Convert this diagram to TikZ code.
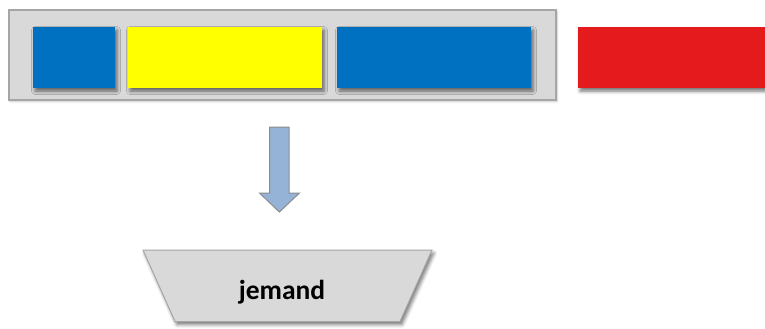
\documentclass[tikz,border=0pt]{standalone}
\usepackage{fontspec}
\setmainfont{Carlito}
\usetikzlibrary{shadows.blur}
\definecolor{boxgray}{HTML}{D9D9D9}
\definecolor{edgegray}{HTML}{A6A6A6}
\definecolor{myblue}{HTML}{0070C0}
\definecolor{myyellow}{HTML}{FFFF00}
\definecolor{myred}{HTML}{E41A1C}
\definecolor{arrowblue}{HTML}{95B3D7}
\definecolor{arrowedge}{HTML}{8C8C8C}
\tikzset{
  shad/.style={blur shadow={shadow xshift=2pt, shadow yshift=-3pt, shadow blur radius=3.5pt, shadow opacity=55}},
  cell/.style={draw=none, shad},
}
\begin{document}
\begin{tikzpicture}[x=1pt,y=-1pt]
\useasboundingbox (0,0) rectangle (765,329);
% outer container
\draw[fill=boxgray, draw=edgegray, line width=2pt, blur shadow={shadow xshift=1pt, shadow yshift=-1.5pt, shadow blur radius=2pt, shadow opacity=25}] (9,10) rectangle (556,100);
% cells
\fill[myblue, cell] (33,27) rectangle (115,88);
\fill[myyellow, cell] (128,27) rectangle (322,88);
\fill[myblue, cell] (337,27) rectangle (531,88);
\fill[myred, cell] (578,27) rectangle (765,88);
% block arrow
\draw[fill=arrowblue, draw=arrowedge, line width=1pt]
  (269.5,127) -- (289,127) -- (289,193) -- (299.5,193) -- (279.3,212) -- (259.5,193) -- (269.5,193) -- cycle;
% trapezoid
\draw[fill=boxgray, draw=edgegray, line width=1pt, shad]
  (143,250) -- (432,250) -- (400,321.5) -- (175,321.5) -- cycle;
\node[font=\bfseries\fontsize{27.5}{32}\selectfont, text=black] (jemand) at (282,292) {jemand};
\end{tikzpicture}
\end{document}
